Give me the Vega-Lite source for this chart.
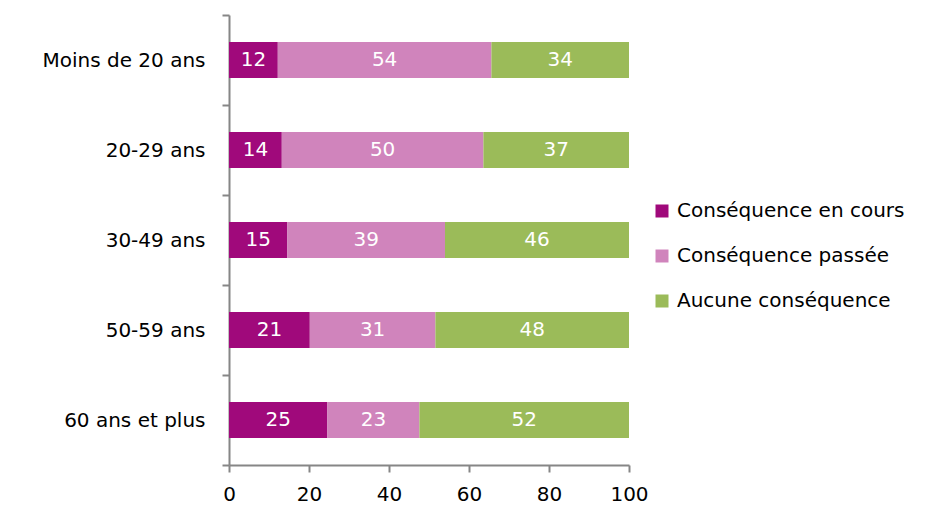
{
  "$schema": "https://vega.github.io/schema/vega-lite/v6.json",
  "width": 400,
  "height": 450,
  "autosize": "none",
  "padding": {"left": 229, "top": 15, "right": 315, "bottom": 42},
  "background": "white",
  "config": {"view": {"stroke": null}},
  "data": {
    "values": [
      {"age": "Moins de 20 ans", "serie": "Conséquence en cours", "ord": 1, "value": 12.2, "label": "12"},
      {"age": "Moins de 20 ans", "serie": "Conséquence passée", "ord": 2, "value": 53.4, "label": "54"},
      {"age": "Moins de 20 ans", "serie": "Aucune conséquence", "ord": 3, "value": 34.4, "label": "34"},
      {"age": "20-29 ans", "serie": "Conséquence en cours", "ord": 1, "value": 13.2, "label": "14"},
      {"age": "20-29 ans", "serie": "Conséquence passée", "ord": 2, "value": 50.4, "label": "50"},
      {"age": "20-29 ans", "serie": "Aucune conséquence", "ord": 3, "value": 36.4, "label": "37"},
      {"age": "30-49 ans", "serie": "Conséquence en cours", "ord": 1, "value": 14.6, "label": "15"},
      {"age": "30-49 ans", "serie": "Conséquence passée", "ord": 2, "value": 39.4, "label": "39"},
      {"age": "30-49 ans", "serie": "Aucune conséquence", "ord": 3, "value": 46.0, "label": "46"},
      {"age": "50-59 ans", "serie": "Conséquence en cours", "ord": 1, "value": 20.2, "label": "21"},
      {"age": "50-59 ans", "serie": "Conséquence passée", "ord": 2, "value": 31.4, "label": "31"},
      {"age": "50-59 ans", "serie": "Aucune conséquence", "ord": 3, "value": 48.4, "label": "48"},
      {"age": "60 ans et plus", "serie": "Conséquence en cours", "ord": 1, "value": 24.6, "label": "25"},
      {"age": "60 ans et plus", "serie": "Conséquence passée", "ord": 2, "value": 23.0, "label": "23"},
      {"age": "60 ans et plus", "serie": "Aucune conséquence", "ord": 3, "value": 52.4, "label": "52"}
    ]
  },
  "transform": [
    {"stack": "value", "groupby": ["age"], "sort": [{"field": "ord"}], "as": ["v0", "v1"]}
  ],
  "encoding": {
    "y": {
      "field": "age", "type": "nominal",
      "sort": ["Moins de 20 ans", "20-29 ans", "30-49 ans", "50-59 ans", "60 ans et plus"],
      "scale": {"paddingInner": 0, "paddingOuter": 0},
      "axis": {
        "title": null, "tickBand": "extent", "domainColor": "#868686", "tickColor": "#868686",
        "domainWidth": 2, "tickWidth": 2, "tickSize": 7, "labelPadding": 17,
        "labelFont": "DejaVu Sans", "labelFontSize": 20, "labelColor": "#000000"
      }
    }
  },
  "layer": [
    {
      "mark": {"type": "bar", "height": {"band": 0.4}},
      "encoding": {
        "x": {
          "field": "v0", "type": "quantitative",
          "scale": {"domain": [0, 100], "nice": false},
          "axis": {
            "title": null, "values": [0, 20, 40, 60, 80, 100], "grid": false,
            "domainColor": "#868686", "tickColor": "#868686", "domainWidth": 2, "tickWidth": 2,
            "tickSize": 7, "labelPadding": 12, "labelFlush": false, "labelOverlap": false,
            "labelFont": "DejaVu Sans", "labelFontSize": 20, "labelColor": "#000000"
          }
        },
        "x2": {"field": "v1"},
        "color": {
          "field": "serie", "type": "nominal",
          "scale": {
            "domain": ["Conséquence en cours", "Conséquence passée", "Aucune conséquence"],
            "range": ["#A0097B", "#D084BC", "#9BBB59"]
          },
          "legend": {
            "title": null, "orient": "none", "legendX": 423, "legendY": 186,
            "symbolType": "square", "symbolSize": 169, "symbolStrokeWidth": 0,
            "labelFont": "DejaVu Sans", "labelFontSize": 20, "labelColor": "#000000",
            "labelLimit": 0, "rowPadding": 25, "labelOffset": 5
          }
        }
      }
    },
    {
      "transform": [
        {"fold": ["v0", "v1"], "as": ["k", "pos"]},
        {"aggregate": [{"op": "mean", "field": "pos", "as": "mid"}], "groupby": ["age", "serie", "label"]}
      ],
      "mark": {"type": "text", "color": "white", "font": "DejaVu Sans", "fontSize": 20, "baseline": "middle"},
      "encoding": {
        "x": {"field": "mid", "type": "quantitative"},
        "text": {"field": "label"}
      }
    }
  ]
}
